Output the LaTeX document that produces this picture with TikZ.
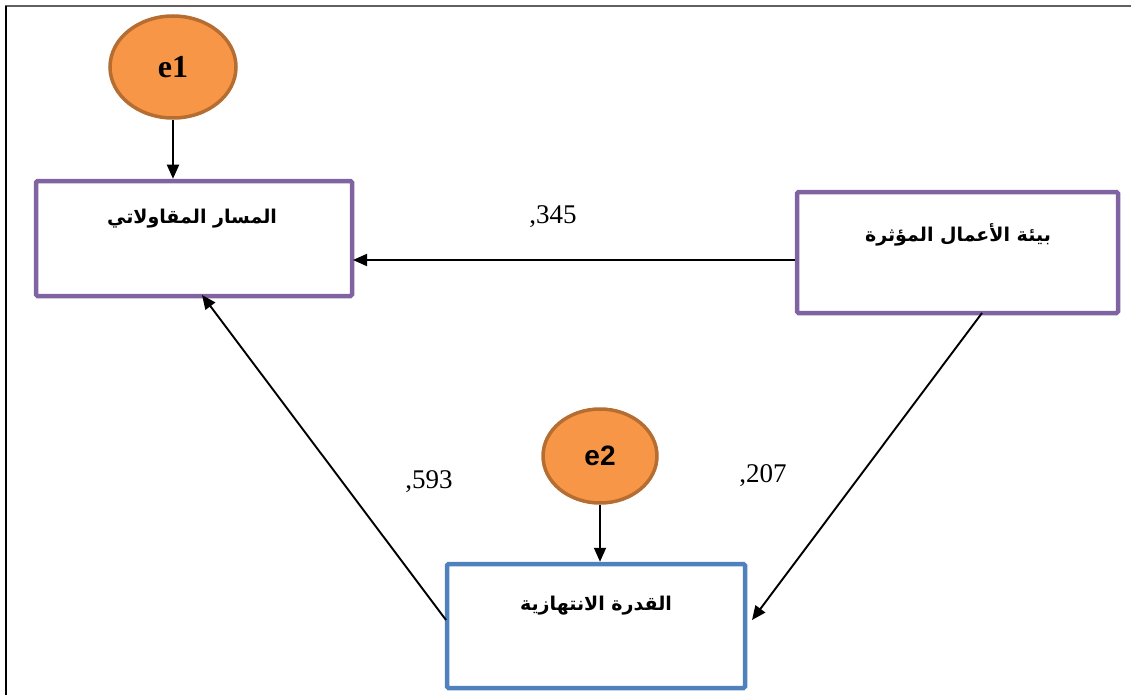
\documentclass[tikz,border=0pt]{standalone}
\usepackage{fontspec}
\setmainfont{Liberation Serif}
\newfontfamily\arabicfont[Script=Arabic]{DejaVu Sans}
\newfontfamily\latinsans{Liberation Sans}
\TeXXeTstate=1
\usetikzlibrary{arrows.meta,shapes.geometric}
\definecolor{boxpurple}{HTML}{8064A2}
\definecolor{boxblue}{HTML}{4F81BD}
\definecolor{errfill}{HTML}{F79646}
\definecolor{errline}{HTML}{B66D31}
\tikzset{
  x=1pt,y=-1pt,
  varbox/.style={draw=boxpurple,line width=4.5pt,rounded corners=1.5pt,inner sep=0pt},
  errnode/.style={ellipse,draw=errline,fill=errfill,line width=3.5pt,inner sep=0pt},
  arr/.style={-{Triangle[length=14pt,width=12pt]},line width=1.9pt},
  coef/.style={font=\fontsize{27}{30}\selectfont},
  artext/.style={font=\arabicfont\bfseries\fontsize{19}{22}\selectfont},
}
\begin{document}
\begin{tikzpicture}
\useasboundingbox (0,0) rectangle (1131,695);
\draw[line width=2.5pt,color=black!62] (5,6) -- (1131,6);
\draw[line width=2.5pt] (6,6) -- (6,695);
% boxes
\node[varbox,minimum width=316pt,minimum height=115pt] (A) at (194,238.5) {};
\node[varbox,minimum width=321pt,minimum height=121pt] (B) at (957.5,252.5) {};
\node[varbox,draw=boxblue,minimum width=298pt,minimum height=124pt] (C) at (596,626) {};
\node[artext] (At) at (192,219) {\beginR المسار المقاولاتي\endR};
\node[artext] (Bt) at (958,235) {\beginR بيئة الأعمال المؤثرة\endR};
\node[artext] (Ct) at (596,606) {\beginR القدرة الانتهازية\endR};
% error terms
\node[errnode,minimum width=126pt,minimum height=102pt] (e1) at (173,67) {\bfseries\fontsize{32}{34}\selectfont e1};
\node[errnode,minimum width=114pt,minimum height=94pt] (e2) at (600,456) {\latinsans\bfseries\fontsize{28}{30}\selectfont e2};
% coordinates
\coordinate (Aright) at (353,260);
\coordinate (Bleft) at (795,260);
\coordinate (Bbot) at (982,313);
\coordinate (Cright) at (752,620);
\coordinate (Cleft) at (446,620);
\coordinate (Abot) at (202,295);
% arrows
\draw[arr] (e1.south) -- (A.north -| e1.south);
\draw[arr] (e2.south) -- (C.north -| e2.south);
\draw[arr] (Bleft) -- (Aright);
\draw[arr] (Bbot) -- (Cright);
\draw[arr] (Cleft) -- (Abot);
% coefficients
\node[coef] (c1) at (553,217) {,345};
\node[coef] (c2) at (429,482) {,593};
\node[coef] (c3) at (763,476) {,207};
\end{tikzpicture}
\end{document}
